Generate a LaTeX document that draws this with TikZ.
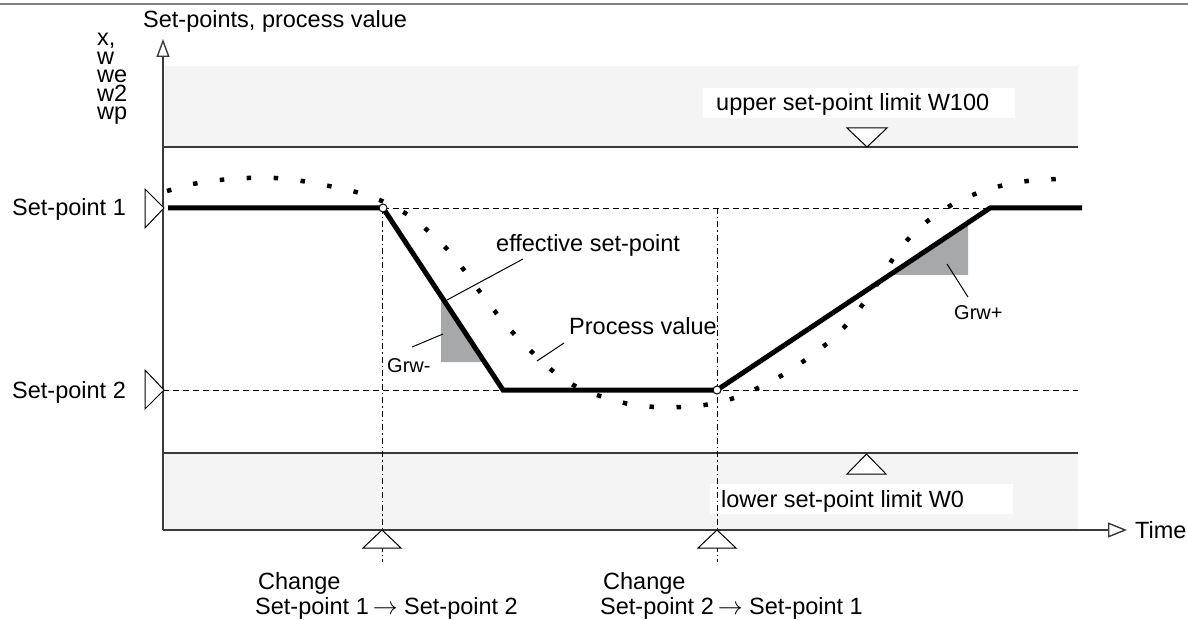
\documentclass[tikz,border=0pt]{standalone}
\usepackage{fontspec}
\setmainfont{Liberation Sans}
\usetikzlibrary{arrows.meta}
\definecolor{bandgray}{HTML}{F4F4F4}
\definecolor{grwgray}{HTML}{A7A8AA}
\definecolor{limgray}{HTML}{3A3A3A}
\begin{document}
\begin{tikzpicture}[x=1pt,y=-1pt,
  lbl/.style={inner sep=0pt, anchor=base west, font=\fontsize{23.5}{27}\selectfont},
  smalllbl/.style={inner sep=0pt, anchor=base west, font=\fontsize{20}{23}\selectfont},
  leader/.style={line width=1pt, draw=black},
  limline/.style={line width=1.4pt, draw=limgray},
  axisline/.style={line width=1.4pt, draw=limgray},
  marker/.style={line width=1pt, draw=black, fill=white, line join=miter},
  hdash/.style={line width=0.9pt, dash pattern=on 6pt off 4pt},
  vdashdot/.style={line width=0.9pt, dash pattern=on 6pt off 3pt on 1.5pt off 3pt},
  thickline/.style={line width=5pt, line join=miter},
  dots/.style={line width=4.5pt, dash pattern=on 4.5pt off 22.5pt}
]
\useasboundingbox (0,0) rectangle (1188,620);
% top rule
\draw[line width=1.5pt, draw=gray] (0,4) -- (1188,4);
% bands
\fill[bandgray] (165,66) rectangle (1078,147);
\fill[bandgray] (165,453) rectangle (1078,530);
\fill[white] (703,88) rectangle (1015,118);
\fill[white] (710,484) rectangle (1013,514);
\draw[limline] (163,147) -- (1078,147);
\draw[limline] (163,453) -- (1078,453);
% dashed reference lines
\draw[hdash] (383,208) -- (990,208);
\draw[hdash] (163,390) -- (1078,390);
\draw[vdashdot] (382,208) -- (382,562);
\draw[vdashdot] (717,208) -- (717,562);
% process value (dotted)
\draw[dots] plot[smooth] coordinates {(167,191) (193,184) (220,180) (248,178) (275,178) (302,181) (329,186) (356,192) (382,201) (405,213) (427,230) (447,249) (464,270) (480,292) (497,314) (515,335) (534,354) (554,372) (577,387) (603,397) (629,404) (656,407) (683,407) (711,404) (737,397) (762,386) (786,373) (808,358) (830,341) (849,322) (866,300) (882,277) (896,254) (913,234) (934,216) (957,202) (983,191) (1009,184) (1036,180) (1063,179)};
% gradient triangles
\fill[grwgray] (441,300) -- (441,362) -- (485,362) -- cycle;
\fill[grwgray] (968,222) -- (968,275) -- (890,275) -- cycle;
% effective set-point
\draw[thickline] (168,208) -- (383,208) -- (503,390) -- (717,390) -- (990,208) -- (1082,208);
\draw[marker] (383,208) circle (4);
\draw[marker] (717,390) circle (4);
% axes
\draw[axisline, -{Triangle[open, length=18pt, width=13pt]}] (163,530) -- (163,39);
\draw[axisline, -{Triangle[open, length=19pt, width=15pt]}] (163,530) -- (1127,530);
% set-point markers
\draw[marker] (145,189) -- (164,208) -- (145,228) -- cycle;
\draw[marker] (145,370) -- (164,390) -- (145,409) -- cycle;
% limit markers
\draw[marker] (847,128) -- (887,128) -- (867,147) -- cycle;
\draw[marker] (847,474) -- (886,474) -- (866.5,454) -- cycle;
% change markers
\draw[marker] (363,548) -- (382,530) -- (401,548) -- cycle;
\draw[marker] (698,548) -- (717,530) -- (736,548) -- cycle;
% labels
\node[lbl] (ytitle) at (143,28) {Set-points, process value};
\node[lbl, align=left, font=\fontsize{23.5}{18.5}\selectfont] (ylabels) at (97,120) {x,\\w\\we\\w2\\wp};
\node[lbl] (sp1) at (12,216) {Set-point 1};
\node[lbl] (sp2) at (12,398) {Set-point 2};
\node[lbl] (upper) at (716,111) {upper set-point limit W100};
\node[lbl] (lower) at (721,507) {lower set-point limit W0};
\node[lbl] (time) at (1135,538) {Time};
\node[lbl] (eff) at (496,252) {effective set-point};
\node[lbl] (pv) at (569,334) {Process value};
\node[smalllbl] (grwm) at (387,372) {Grw-};
\node[smalllbl] (grwp) at (954,319) {Grw+};
\node[lbl] (ch1) at (258,589) {Change};
\node[lbl] (ch1b) at (255,614) {Set-point 1\,$\rightarrow$\ Set-point 2};
\node[lbl] (ch2) at (603,589) {Change};
\node[lbl] (ch2b) at (600,614) {Set-point 2\,$\rightarrow$\ Set-point 1};
% leaders
\coordinate (effa) at (523,259); \coordinate (effb) at (447,300);
\coordinate (pva) at (564,343); \coordinate (pvb) at (537,361);
\coordinate (gma) at (443,334); \coordinate (gmb) at (412,347);
\coordinate (gpa) at (947,264); \coordinate (gpb) at (968,297);
\draw[leader] (effa) -- (effb);
\draw[leader] (pva) -- (pvb);
\draw[leader] (gma) -- (gmb);
\draw[leader] (gpa) -- (gpb);
\end{tikzpicture}
\end{document}
